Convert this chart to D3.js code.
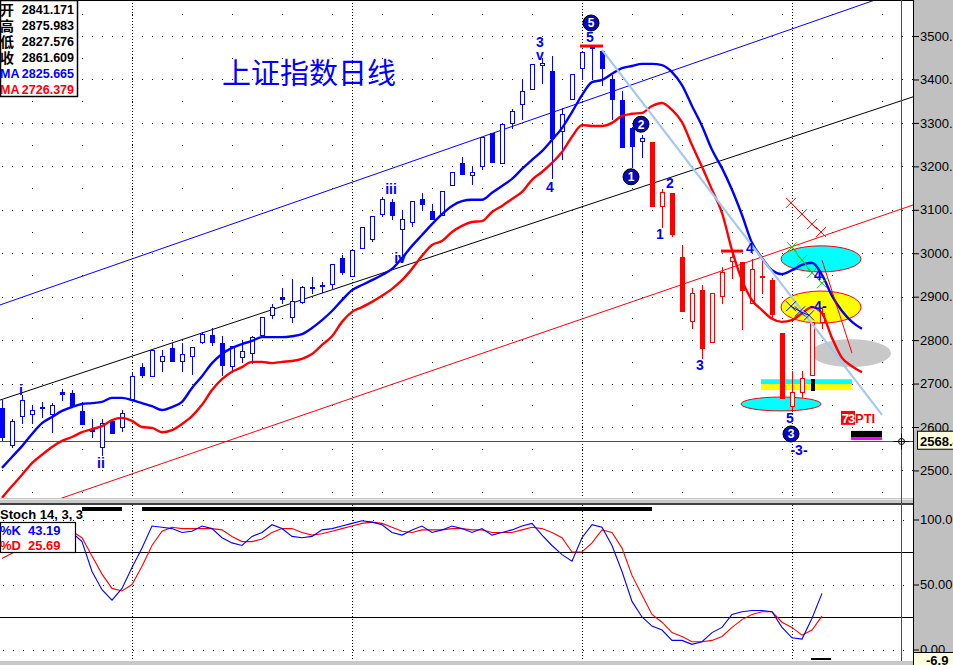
<!DOCTYPE html>
<html><head><meta charset="utf-8">
<script src="https://cdn.jsdelivr.net/npm/d3@7"></script>
<style>body{margin:0;background:#fff;overflow:hidden}svg{display:block}</style>
</head><body><svg id="c" width="953" height="665"></svg>
<script>
// ---------------- DATA ----------------
const opens  = [2644,2559,2625,2630,2646,2630,2681,2678,2637,2595,2554,2614,2600,2664,2738,2717,2752,2782,2752,2763,2796,2812,2793,2740,2761,2770,2812,2858,2899,2853,2888,2922,2927,2929,2989,2948,3012,3033,3090,3118,3056,3072,3125,3097,3088,3157,3208,3180,3201,3277,3208,3300,3344,3378,3433,3420,3281,3355,3426,3477,3466,3401,3353,3288,3258,3256,3109,3139,2991,2844,2915,2796,2902,2982,2980,2885,2948,2938,2816,2648,2681,2720,2841.171];
const highs  = [2662,2618,2674,2651,2658,2655,2687,2685,2658,2618,2618,2614,2639,2724,2747,2777,2777,2793,2793,2784,2819,2828,2809,2786,2798,2809,2853,2883,2920,2941,2925,2945,2934,2975,2996,3007,3060,3086,3129,3125,3100,3120,3139,3113,3143,3187,3222,3199,3268,3277,3298,3332,3399,3436,3449,3454,3334,3413,3463,3478,3466,3410,3373,3291,3272,3256,3148,3139,3019,2920,2927,2908,2968,3005,2980,2987,2987,2943,2816,2729,2729,2842,2875.983];
const lows   = [2570,2554,2609,2609,2623,2588,2662,2648,2607,2577,2536,2586,2591,2664,2715,2717,2729,2752,2729,2722,2793,2789,2720,2727,2750,2747,2812,2851,2885,2842,2885,2908,2911,2920,2952,2948,3012,3028,3086,3079,2984,3063,3100,3079,3088,3157,3182,3159,3194,3210,3208,3288,3309,3378,3392,3173,3217,3355,3401,3403,3387,3309,3245,3199,3222,3109,3060,3040,2867,2828,2759,2796,2885,2943,2826,2885,2908,2851,2667,2639,2669,2720,2827.576];
const closes = [2577,2614,2662,2639,2644,2651,2676,2648,2607,2591,2609,2586,2632,2717,2720,2777,2763,2752,2768,2784,2814,2796,2743,2786,2775,2807,2853,2876,2895,2890,2922,2920,2925,2975,2957,3007,3060,3086,3125,3088,3079,3120,3113,3079,3143,3187,3182,3187,3268,3210,3298,3327,3373,3436,3438,3265,3321,3413,3463,3472,3426,3355,3245,3247,3265,3109,3141,3044,2867,2908,2782,2908,2957,2991,2915,2964,2945,2860,2667,2681,2713,2842,2861.609];
const redFromBar = 65;
// displaced moving averages (extend 4 bars past last candle)
const maFast = [2506,2531,2556,2584,2609,2623,2637,2646,2653,2655,2658,2667,2667,2662,2655,2648,2639,2646,2658,2690,2717,2747,2768,2782,2791,2798,2807,2807,2807,2809,2814,2828,2846,2867,2892,2915,2927,2938,2950,2964,2989,3017,3042,3067,3090,3109,3120,3123,3123,3139,3155,3171,3194,3215,3235,3261,3288,3325,3364,3394,3399,3413,3426,3431,3436,3436,3433,3417,3387,3339,3293,3238,3196,3146,3088,3024,2989,2961,2952,2961,2973,2978,2950,2902,2867,2842,2826];
const maSlow = [2437,2464,2490,2517,2536,2554,2568,2577,2588,2595,2602,2616,2621,2614,2600,2598,2588,2593,2607,2625,2651,2685,2710,2727,2738,2750,2750,2747,2750,2752,2757,2768,2789,2809,2842,2865,2876,2888,2902,2918,2938,2964,2994,3019,3028,3049,3063,3072,3074,3095,3109,3125,3141,3169,3187,3208,3233,3268,3295,3293,3293,3300,3316,3321,3323,3339,3346,3330,3302,3249,3199,3146,3093,3007,2938,2892,2869,2849,2842,2846,2862,2876,2862,2805,2759,2740,2726];
const stochK = [75,80,85,88,90,92,91,90,83,60,46,38,47,63,78,95,94,93,90,91,95,93,86,82,80,87,90,96,93,87,86,87,92,93,95,97,99,98,96,90,88,92,95,90,92,95,93,90,93,88,90,92,95,97,88,80,73,68,86,96,94,80,60,37,25,18,15,7,7,4,6,13,17,27,29,30,30,29,17,9,8,24,43.19];
const stochD = [70,74,78,82,85,88,90,91,86,72,58,47,45,50,64,80,91,94,93,93,93,93,92,87,83,83,85,90,93,93,90,88,89,91,93,95,97,98,97,94,91,90,92,92,92,93,93,92,92,90,90,90,92,94,93,90,86,75,75,82,92,90,78,57,42,27,21,13,10,6,6,7,10,17,23,27,29,29,21,17,11,15,25.69];
const priceTicks = [2500,2600,2700,2800,2900,3000,3100,3200,3300,3400,3500];
const stochTicks = [0,50,100];
const stochLevels = [25,75];
const monthBars = [13,35,58,79];
const crossPrice = 2568.4, crossBar = 89.9, crossStoch = "-6.9";
// trend / channel lines: [bar, price] pairs
const channelBlue  = [[-0.2,2881],[87.3,3583]];
const channelBlack = [[-0.2,2662],[91.1,3360]];
const channelRed   = [[6.3,2439],[91.1,3111]];
const fanLine      = [[60,3468],[88,2628]];
const thinRed      = [[82,2984],[85,2770]];
const redBars      = [[57.8,60.1,3477],[71.9,74.1,3005]];
// ellipses: [centerBar, centerPrice, radiusBars, radiusPrice]
const ellCyanTop = [81.9,2987,4,30];
const ellYellow  = [81.9,2876,4,37];
const ellGray    = [84.9,2770,4,32];
const ellCyanLow = [77.9,2653,4,16];
const bandCyan   = [75.9,85,2710,2699];
const bandYellow = [75.9,85,2699,2685];
const xRed   = [[78.9,3116],[80,3090],[81,3067],[81.9,3049]];
const xGreen = [[79,3014],[80,2984],[81,2955],[82,2931]];
const xBlue  = [[78.9,2878],[79.8,2866],[80.7,2857]];
const waveLabels = [["i",1.9,2685],["ii",9.9,2517],["iii",38.9,3148],["iv",39.8,2989],["3",53.8,3486],["v",53.8,3456],["4",54.8,3152],["5",58.8,3498],["1",65.8,3044],["2",66.8,3162],["3",69.8,2743],["4",74.8,3012],["4",81.6,2950],["-4-",81.6,2879],["5",78.8,2621],["-3-",79.7,2547]];
const circled = [["5",58.9,3530],["2",63.9,3297],["1",62.9,3176],["3",78.9,2584]];
const infoNames = ["开","高","低","收"];
const infoValues = ["2841.171","2875.983","2827.576","2861.609"];
const maValues = ["2825.665","2726.379"];
const stochTitle = "Stoch 14, 3, 3";
const kLast = "43.19", dLast = "25.69";
const obBars = [[8,12],[14,65]];
const marker = [81, 2710, 2683];
const pti = [83.9, 2637, 2605];
const ptiBar = [84.9, 88, 2591, 2577, 2570];

// ---------------- SCALES ----------------
const X = d3.scaleLinear().domain([0,82]).range([2,822]);
const Y = d3.scaleLinear().domain([2500,3500]).range([470.44,36.04]);
const S = d3.scaleLinear().domain([0,100]).range([649.5,519.5]);
const svg = d3.select("#c");
const FONT = "'Liberation Sans', Arial, sans-serif";
const CJK = "'Noto Sans CJK SC', sans-serif";

svg.append("rect").attr("width",953).attr("height",665).attr("fill","#fff");
const defs = svg.append("defs");
defs.append("clipPath").attr("id","cm").append("rect").attr("x",0).attr("y",1).attr("width",913).attr("height",497);
defs.append("clipPath").attr("id","cs").append("rect").attr("x",0).attr("y",505).attr("width",913).attr("height",155);

const main = svg.append("g").attr("clip-path","url(#cm)");
const stoch = svg.append("g").attr("clip-path","url(#cs)");

// ---------------- GRID ----------------
const grid = main.append("g").attr("shape-rendering","crispEdges").attr("stroke","#000");
d3.range(2450,3551,50).forEach(v=>{
  const yy = Math.round(Y(v))+0.5, dense = v%100===0;
  grid.append("line").attr("x1",dense?2:32).attr("x2",913).attr("y1",yy).attr("y2",yy)
    .attr("stroke-dasharray",dense?"1,9":"1,49");
});
monthBars.forEach(b=>{
  const xx = Math.round(X(b))+0.5;
  grid.append("line").attr("x1",xx).attr("x2",xx).attr("y1",0).attr("y2",498).attr("stroke-dasharray","1,2");
  stoch.append("line").attr("x1",xx).attr("x2",xx).attr("y1",505).attr("y2",660).attr("stroke","#000").attr("stroke-dasharray","1,2").attr("shape-rendering","crispEdges");
});

// ---------------- ELLIPSES / BANDS ----------------
function ell(e,fill,stroke){
  main.append("ellipse").attr("cx",X(e[0])).attr("cy",Y(e[1]))
    .attr("rx",X(e[0]+e[2])-X(e[0])).attr("ry",Y(e[1]-e[3])-Y(e[1]))
    .attr("fill",fill).attr("stroke",stroke||"none").attr("stroke-width",1);
}
ell(ellCyanTop,"#00ffff","#ff0000");
ell(ellYellow,"#ffff00","#ff0000");
ell(ellGray,"#c8c8c8");
ell(ellCyanLow,"#00ffff","#ff0000");
[[bandCyan,"#00ffff"],[bandYellow,"#ffff00"]].forEach(([b,c])=>{
  main.append("rect").attr("x",X(b[0])).attr("width",X(b[1])-X(b[0]))
    .attr("y",Y(b[2])).attr("height",Y(b[3])-Y(b[2])).attr("fill",c);
});

// ---------------- CHANNEL LINES ----------------
function extLine(p,color,w,a,b){
  const sl=(p[1][1]-p[0][1])/(p[1][0]-p[0][0]);
  const f=i=>p[0][1]+sl*(i-p[0][0]);
  main.append("line").attr("x1",X(a)).attr("y1",Y(f(a))).attr("x2",X(b)).attr("y2",Y(f(b)))
    .attr("stroke",color).attr("stroke-width",w);
}
extLine(channelBlue,"#0000ff",1,-2,95);
extLine(channelBlack,"#000000",1,-2,95);
extLine(channelRed,"#ff0000",1,-2,95);
// crosshair
main.append("line").attr("x1",0).attr("x2",913).attr("y1",Math.round(Y(crossPrice))+0.5).attr("y2",Math.round(Y(crossPrice))+0.5).attr("stroke","#ff0000").attr("shape-rendering","crispEdges");

// ---------------- CANDLES ----------------
const cg = main.append("g").attr("shape-rendering","crispEdges");
opens.forEach((o,i)=>{
  const h=highs[i], l=lows[i], c=closes[i];
  const col = i>=redFromBar ? "#ff0000" : "#0000ff";
  const xc = Math.round(X(i));
  const t = Math.round(Y(Math.max(o,c))), b = Math.round(Y(Math.min(o,c)));
  cg.append("line").attr("x1",xc+0.5).attr("x2",xc+0.5).attr("y1",Math.round(Y(h))).attr("y2",Math.round(Y(l))+1).attr("stroke",col);
  if (c>o) {
    cg.append("rect").attr("x",xc-1.5).attr("width",4).attr("y",t+0.5).attr("height",Math.max(b-t,1)).attr("fill","#fff").attr("stroke",col);
  } else {
    cg.append("rect").attr("x",xc-2).attr("width",5).attr("y",t).attr("height",Math.max(b-t,1)+1).attr("fill",col);
  }
});
// current bar marker
cg.append("rect").attr("x",Math.round(X(marker[0]))-1).attr("width",4).attr("y",Y(marker[1])).attr("height",Y(marker[2])-Y(marker[1])).attr("fill","#000");

// ---------------- MOVING AVERAGES ----------------
const lineP = d3.line().x((d,i)=>X(i)).y(d=>Y(d)).curve(d3.curveMonotoneX);
main.append("path").datum(maSlow).attr("d",lineP).attr("fill","none").attr("stroke","#ff0000").attr("stroke-width",2.4);
main.append("path").datum(maFast).attr("d",lineP).attr("fill","none").attr("stroke","#0000ff").attr("stroke-width",2.4);
// fan line
main.append("line").attr("x1",X(fanLine[0][0])).attr("y1",Y(fanLine[0][1])).attr("x2",X(fanLine[1][0])).attr("y2",Y(fanLine[1][1])).attr("stroke","#a4c8f0").attr("stroke-width",2.2);
main.append("line").attr("x1",X(thinRed[0][0])).attr("y1",Y(thinRed[0][1])).attr("x2",X(thinRed[1][0])).attr("y2",Y(thinRed[1][1])).attr("stroke","#ff0000").attr("stroke-width",1);

// red horizontal marker bars
redBars.forEach(r=>{
  main.append("line").attr("x1",X(r[0])).attr("x2",X(r[1])).attr("y1",Y(r[2])).attr("y2",Y(r[2])).attr("stroke","#ff0000").attr("stroke-width",3);
});

// X marks
function xMarks(pts,color){
  main.append("path").datum(pts).attr("d",d3.line().x(d=>X(d[0])).y(d=>Y(d[1]))).attr("fill","none").attr("stroke",color).attr("stroke-width",1);
  pts.forEach(p=>{
    const cx=X(p[0]), cy=Y(p[1]), s=5;
    main.append("path").attr("d",`M${cx-s},${cy-s}L${cx+s},${cy+s}M${cx-s},${cy+s}L${cx+s},${cy-s}`).attr("stroke",color).attr("stroke-width",1);
  });
}
xMarks(xRed,"#ff0000");
xMarks(xGreen,"#00cc00");
xMarks(xBlue,"#0000ff");

// wave labels
waveLabels.forEach(([t,b,p])=>{
  main.append("text").attr("x",X(b)).attr("y",Y(p)).attr("text-anchor","middle").attr("dominant-baseline","central")
    .attr("font-family",FONT).attr("font-weight","bold").attr("font-size",14).attr("fill","#0000ff").text(t);
});
circled.forEach(([t,b,p])=>{
  main.append("circle").attr("cx",X(b)).attr("cy",Y(p)).attr("r",8).attr("fill","#0808b8").attr("stroke","#000").attr("stroke-width",1);
  main.append("text").attr("x",X(b)).attr("y",Y(p)).attr("dy","0.36em").attr("text-anchor","middle")
    .attr("font-family",FONT).attr("font-weight","bold").attr("font-size",12).attr("fill","#fff").text(t);
});

// PTI
main.append("rect").attr("x",X(pti[0])).attr("y",Y(pti[1])).attr("width",14).attr("height",Y(pti[2])-Y(pti[1])).attr("fill","#ff0000");
main.append("text").attr("x",X(pti[0])+7).attr("y",Y(pti[2])-2).attr("text-anchor","middle").attr("font-family",FONT).attr("font-weight","bold").attr("font-size",13).attr("fill","#fff").attr("letter-spacing",-1).text("73");
main.append("text").attr("x",X(pti[0])+14).attr("y",Y(pti[2])-2).attr("font-family",FONT).attr("font-weight","bold").attr("font-size",13).attr("fill","#ff0000").text("PTI");
main.append("rect").attr("x",X(ptiBar[0])).attr("width",X(ptiBar[1])-X(ptiBar[0])).attr("y",Y(ptiBar[2])).attr("height",Y(ptiBar[3])-Y(ptiBar[2])).attr("fill","#000");
main.append("rect").attr("x",X(ptiBar[0])).attr("width",X(ptiBar[1])-X(ptiBar[0])).attr("y",Y(ptiBar[3])).attr("height",Y(ptiBar[4])-Y(ptiBar[3])).attr("fill","#ff00ff");

// title
svg.append("text").attr("x",222).attr("y",84).attr("font-family",CJK).attr("font-size",29).attr("fill","#0000ff").text("上证指数日线");

// info box
svg.append("rect").attr("x",0.5).attr("y",0.5).attr("width",77).attr("height",96).attr("fill","#fff").attr("stroke","#000").attr("stroke-width",1.5);
infoNames.forEach((n,k)=>{
  svg.append("text").attr("x",0).attr("y",15+16*k).attr("font-family",CJK).attr("font-weight","bold").attr("font-size",14).attr("fill","#000").text(n);
  svg.append("text").attr("x",74).attr("y",14+16*k).attr("text-anchor","end").attr("font-family",FONT).attr("font-weight","bold").attr("font-size",12.5).attr("fill","#000").text(infoValues[k]);
});
maValues.forEach((v,k)=>{
  const col = k===0?"#0000ff":"#ff0000";
  svg.append("text").attr("x",0).attr("y",78+16*k).attr("font-family",FONT).attr("font-weight","bold").attr("font-size",12.5).attr("fill",col).text("MA");
  svg.append("text").attr("x",74).attr("y",78+16*k).attr("text-anchor","end").attr("font-family",FONT).attr("font-weight","bold").attr("font-size",12.5).attr("fill",col).text(v);
});

// top border
svg.append("line").attr("x1",0).attr("x2",913).attr("y1",0.5).attr("y2",0.5).attr("stroke","#000");

// panel separator
svg.append("rect").attr("x",0).attr("y",498).attr("width",913).attr("height",5).attr("fill","#c8c8c8");
svg.append("line").attr("x1",0).attr("x2",913).attr("y1",499.5).attr("y2",499.5).attr("stroke","#e8e8e8");
svg.append("line").attr("x1",0).attr("x2",913).attr("y1",504).attr("y2",504).attr("stroke","#000").attr("stroke-width",1.5);

// ---------------- STOCHASTIC ----------------
const sg = stoch.append("g").attr("shape-rendering","crispEdges");
stochTicks.forEach(v=>{
  const yy=Math.round(S(v))+0.5;
  sg.append("line").attr("x1",3).attr("x2",913).attr("y1",yy).attr("y2",yy).attr("stroke","#000").attr("stroke-dasharray","1,9");
});
stochLevels.forEach(v=>{
  const yy=Math.round(S(v))+0.5;
  sg.append("line").attr("x1",0).attr("x2",913).attr("y1",yy).attr("y2",yy).attr("stroke","#000");
});
obBars.forEach(b=>{
  sg.append("rect").attr("x",X(b[0])).attr("width",X(b[1])-X(b[0])).attr("y",507).attr("height",4).attr("fill","#000");
});
const lineS = d3.line().x((d,i)=>X(i)).y(d=>S(d));
stoch.append("path").datum(stochD).attr("d",lineS).attr("fill","none").attr("stroke","#ff0000").attr("stroke-width",1.1);
stoch.append("path").datum(stochK).attr("d",lineS).attr("fill","none").attr("stroke","#0000ff").attr("stroke-width",1.1);
sg.append("line").attr("x1",0).attr("x2",913).attr("y1",660.5).attr("y2",660.5).attr("stroke","#ff0000");
sg.append("rect").attr("x",X(80.9)).attr("width",20).attr("y",658).attr("height",2).attr("fill","#000");
sg.append("rect").attr("x",X(80.9)).attr("width",20).attr("y",660).attr("height",2).attr("fill","#00cccc");

svg.append("text").attr("x",0).attr("y",519).attr("font-family",FONT).attr("font-weight","bold").attr("font-size",13).attr("fill","#000").text(stochTitle);
svg.append("rect").attr("x",0.5).attr("y",522.5).attr("width",75).attr("height",30).attr("fill","#fff").attr("stroke","#000").attr("stroke-width",1.2);
[["%K",kLast,"#0000ff",535],["%D",dLast,"#ff0000",550]].forEach(([a,b,c,yy])=>{
  svg.append("text").attr("x",0).attr("y",yy).attr("font-family",FONT).attr("font-weight","bold").attr("font-size",13).attr("fill",c).text(a);
  svg.append("text").attr("x",28).attr("y",yy).attr("font-family",FONT).attr("font-weight","bold").attr("font-size",13).attr("fill",c).text(b);
});

// bottom strip
svg.append("rect").attr("x",0).attr("y",661).attr("width",913).attr("height",4).attr("fill","#c8c8c8");

// ---------------- RIGHT AXIS ----------------
svg.append("rect").attr("x",913).attr("y",0).attr("width",40).attr("height",665).attr("fill","#c0c0c0");
svg.append("line").attr("x1",913.5).attr("x2",913.5).attr("y1",0).attr("y2",665).attr("stroke","#000");
const axP = svg.append("g").attr("transform","translate(913,0)")
  .call(d3.axisRight(Y).tickValues(priceTicks).tickSize(6).tickPadding(1).tickFormat(d=>d+"."));
const axS = svg.append("g").attr("transform","translate(913,0)")
  .call(d3.axisRight(S).tickValues(stochTicks).tickSize(6).tickPadding(1).tickFormat(d=>d===100?"100.0":d.toFixed(2)));
[axP,axS].forEach(a=>{
  a.select(".domain").remove();
  a.selectAll("line").attr("stroke","#000");
  a.selectAll("text").attr("font-family",FONT).attr("font-size",13).attr("fill","#000");
});
// crosshair vertical + cursor
svg.append("line").attr("x1",Math.round(X(crossBar))+0.5).attr("x2",Math.round(X(crossBar))+0.5).attr("y1",0).attr("y2",661).attr("stroke","#ff0000").attr("shape-rendering","crispEdges");
const cx0 = Math.round(X(crossBar))+0.5, cy0 = Math.round(Y(crossPrice))+0.5;
svg.append("path").attr("d",`M${cx0-8},${cy0}H${cx0+8}M${cx0},${cy0-8}V${cy0+8}`).attr("stroke","#000").attr("stroke-width",1);
svg.append("circle").attr("cx",cx0).attr("cy",cy0).attr("r",3).attr("fill","none").attr("stroke","#000");
// value boxes
svg.append("rect").attr("x",917.5).attr("y",Y(crossPrice)-9.5).attr("width",40).attr("height",18).attr("fill","#ffffe0").attr("stroke","#000");
svg.append("text").attr("x",920).attr("y",Y(crossPrice)+5).attr("font-family",FONT).attr("font-weight","bold").attr("font-size",13).attr("fill","#000").text(crossPrice.toFixed(1));
svg.append("rect").attr("x",913.5).attr("y",652.5).attr("width",45).attr("height",16).attr("fill","#ffffe0").attr("stroke","#000");
svg.append("text").attr("x",926).attr("y",665).attr("font-family",FONT).attr("font-weight","bold").attr("font-size",13).attr("fill","#000").text(crossStoch);
</script>
</body></html>
